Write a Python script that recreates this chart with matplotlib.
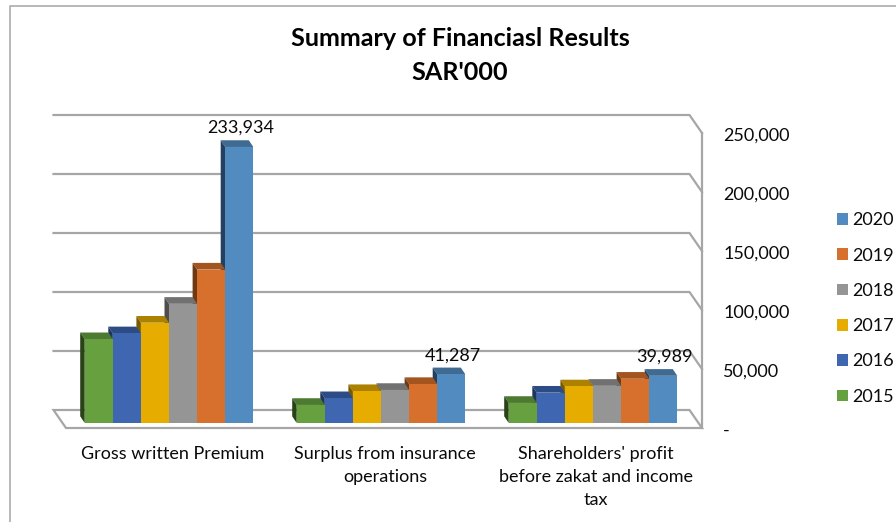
import matplotlib
matplotlib.use("Agg")
import matplotlib.pyplot as plt
from matplotlib.lines import Line2D
from matplotlib.patches import Patch, Polygon
from matplotlib.transforms import ScaledTranslation

plt.rcParams['font.family'] = ['Lato', 'DejaVu Sans']

categories = ["Gross written Premium", "Surplus from insurance\noperations",
              "Shareholders' profit\nbefore zakat and income\ntax"]
years = ["2015", "2016", "2017", "2018", "2019", "2020"]
v2015 = [71000, 15300, 17000]
v2016 = [76000, 21000, 25700]
v2017 = [85000, 27000, 31000]
v2018 = [101000, 28000, 31500]
v2019 = [130000, 33000, 37500]
v2020 = [233934, 41287, 39989]
series = [v2015, v2016, v2017, v2018, v2019, v2020]
yticks = [0, 50000, 100000, 150000, 200000, 250000]
yticklabels = ["-", "50,000", "100,000", "150,000", "200,000", "250,000"]

front_colors = ["#67A03E", "#3F67B1", "#E7AC00", "#959595", "#D6702C", "#528BC0"]
top_colors = ["#4C7A30", "#2D4C86", "#AC8100", "#717171", "#A4541F", "#3F6A92"]
side_colors = ["#2A4217", "#1F3560", "#7A5C00", "#4D4D4D", "#6E3A14", "#23405E"]
grid_color = "#A6A6A6"

W, H = 896, 522
fig = plt.figure(figsize=(W / 100, H / 100), dpi=100)
ax = fig.add_axes([66 / W, 1 - 428 / H, 636 / W, 295 / H])
ax.set_xlim(0, 3)
ax.set_ylim(0, 250000)

# 3d look: everything below is an offset in data units, 212 px per category, 59 px per 50k
px_x = 1 / 212
px_y = 50000 / 59
wall_dx = 12.5 * px_x
wall_dy = 18 * px_y
lift = 5 * px_y
bar_w = 28.1 * px_x
bar_dx = 4.5 * px_x
bar_dy = 6.7 * px_y

# floor and walls
ax.add_patch(Polygon([(0, 0), (3, 0), (3 - wall_dx, wall_dy), (-wall_dx, wall_dy)], closed=True,
                     fc="white", ec=grid_color, lw=1.6, clip_on=False, zorder=1))
for t in yticks[1:]:
    ax.plot([-wall_dx, 3 - wall_dx, 3], [t + wall_dy, t + wall_dy, t], color=grid_color, lw=1.6,
            clip_on=False, zorder=1)
ax.plot([3, 3], [0, 250000], color=grid_color, lw=1.6, clip_on=False, zorder=1)

# bars, drawn right to left so the fronts sit over the neighbour's side
for c in range(3):
    start = c + 0.5 - 3 * px_x - 3 * bar_w
    for i in range(5, -1, -1):
        x0 = start + i * bar_w
        x1 = x0 + bar_w
        top = lift + series[i][c]
        ax.add_patch(Polygon([(x0, top), (x1, top), (x1 - bar_dx, top + bar_dy), (x0 - bar_dx, top + bar_dy)],
                             closed=True, fc=top_colors[i], ec="none", clip_on=False, zorder=2))
        ax.add_patch(Polygon([(x0, lift), (x0, top), (x0 - bar_dx, top + bar_dy), (x0 - bar_dx, lift + bar_dy)],
                             closed=True, fc=side_colors[i], ec="none", clip_on=False, zorder=2))
    for i in range(6):
        ax.bar(start + i * bar_w, series[i][c], bar_w, bottom=lift, align="edge",
               color=front_colors[i], clip_on=False, zorder=3)
    ax.annotate(f"{series[5][c]:,}", (start + 5.5 * bar_w, lift + series[5][c]), xytext=(1, 13.7),
                textcoords="offset points", ha="center", va="center", fontsize=13, color="#0A0A0A",
                annotation_clip=False, zorder=4)

for s in ax.spines.values():
    s.set_visible(False)
ax.patch.set_visible(False)

ax.set_xticks([0.505, 1.505, 2.5])
ax.set_xticklabels(categories, fontsize=13, linespacing=1.55, color="#0A0A0A")
ax.tick_params(axis="x", length=0, pad=13)
ax.yaxis.tick_right()
ax.set_yticks(yticks)
ax.set_yticklabels(yticklabels, fontsize=13, color="#0A0A0A", ha="left")
ax.tick_params(axis="y", length=0, pad=15.3)
shift = ScaledTranslation(0, -1 / 100, fig.dpi_scale_trans)
for lbl in ax.get_yticklabels():
    lbl.set_transform(lbl.get_transform() + shift)

handles = [Patch(fc=front_colors[i], ec="none", label=years[i]) for i in range(5, -1, -1)]
fig.legend(handles=handles, loc="center left", bbox_to_anchor=(837 / W, 1 - 308.5 / H), frameon=False,
           fontsize=13, labelspacing=1.07, handlelength=0.61, handleheight=0.61, handletextpad=0.22,
           borderpad=0, borderaxespad=0, labelcolor="#0A0A0A")

fig.text(460 / W, 1 - 55.5 / H, "Summary of Financiasl Results\nSAR'000", ha="center", va="center",
         fontsize=18.1, fontweight="bold", linespacing=1.56, color="black")

# chart frame, only left and top are inside the crop
fig.add_artist(Line2D([9.5 / W, 9.5 / W, 1], [0, 1 - 5.5 / H, 1 - 5.5 / H], color="#ABABAB", lw=1.2))

fig.savefig("out.png", dpi=100)
